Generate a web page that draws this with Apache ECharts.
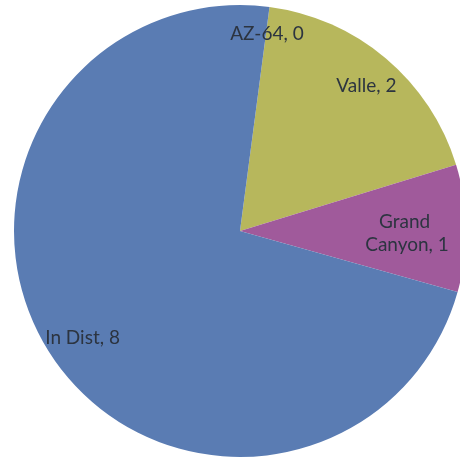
<!DOCTYPE html>
<html><head><meta charset="utf-8">
<script src="https://cdn.jsdelivr.net/npm/echarts@6/dist/echarts.min.js"></script>
<style>html,body{margin:0;padding:0;background:#fff}#c{width:460px;height:463px}</style>
</head><body><div id="c"></div>
<script>
var categories = ['AZ-64', 'Valle', 'Grand Canyon', 'In Dist'];
var values = [0, 2, 1, 8];
var colors = ['#5a7cb3', '#b7b75c', '#a05a9b', '#5a7cb3'];

var labelOffsets = [[2, -8], [3, 1], [-24, 5], [2, 2]];
var data = categories.map(function (c, i) { return { name: c, value: values[i] }; });
var chart = echarts.init(document.getElementById('c'));
chart.setOption({
  animation: false,
  series: [{
    type: 'pie',
    center: [240, 231],
    radius: 226,
    startAngle: 82.5,
    clockwise: true,
    silent: true,
    label: { show: false },
    labelLine: { show: false },
    data: data.map(function (d, i) { return { name: d.name, value: d.value, itemStyle: { color: colors[i] } }; })
  }, {
    type: 'pie',
    center: [240, 231],
    radius: [150, 226],
    startAngle: 82.5,
    clockwise: true,
    silent: true,
    itemStyle: { color: 'rgba(0,0,0,0)' },
    label: {
      show: true, position: 'inside', formatter: '{b}, {c}',
      color: '#2c3440', fontFamily: 'Lato', fontSize: 19, lineHeight: 23,
      width: 100, overflow: 'break'
    },
    labelLine: { show: false },
    data: data.map(function (d, i) { return { name: d.name, value: d.value, label: { offset: labelOffsets[i] } }; })
  }]
});
</script></body></html>
